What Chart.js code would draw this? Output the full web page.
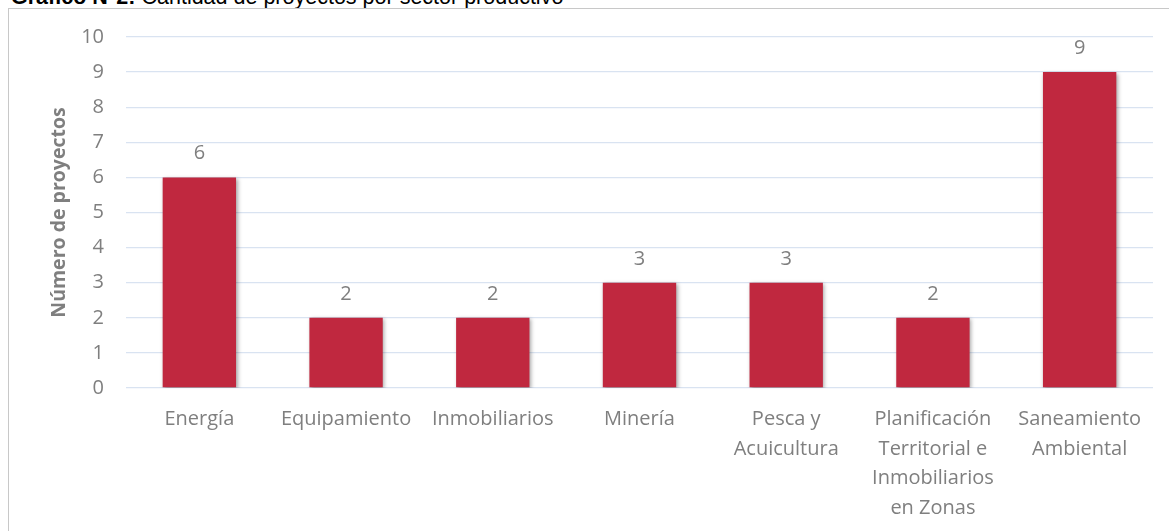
<!DOCTYPE html>
<html>
<head>
<meta charset="utf-8">
<script src="https://cdn.jsdelivr.net/npm/chart.js@4"></script>
<style>
  html, body { margin: 0; padding: 0; background: #fff; overflow: hidden; }
  #page { position: relative; width: 1169px; height: 531px; overflow: hidden; }
  #titulo {
    position: absolute; left: 11px; top: -13px;
    font: 21.5px "Liberation Sans", Arial, sans-serif; line-height: 21.5px;
    color: #000; white-space: nowrap;
  }
  #marco {
    position: absolute; left: 8px; top: 8px; width: 1170px; height: 540px;
    border: 1px solid #c8c8c8; box-sizing: border-box;
  }
  #grafico { position: absolute; left: 0; top: 0; }
</style>
</head>
<body>
<div id="page">
  <div id="titulo"><b>Gráfico N°2:</b> Cantidad de proyectos por sector productivo</div>
  <div id="marco"></div>
  <canvas id="grafico" width="1169" height="531"></canvas>
</div>
<script>
    'use strict';

    const sectores = [
        'Energía',
        'Equipamiento',
        'Inmobiliarios',
        'Minería',
        ['Pesca y', 'Acuicultura'],
        ['Planificación', 'Territorial e', 'Inmobiliarios', 'en Zonas'],
        ['Saneamiento', 'Ambiental']
    ];
    const proyectos = [6, 2, 2, 3, 3, 2, 9];
    const ticksY = [0, 1, 2, 3, 4, 5, 6, 7, 8, 9, 10];

    const gris = '#7f7f7f';
    const fuente = '"Open Sans", "DejaVu Sans", sans-serif';

    // sombra suave bajo las barras
    const sombraBarras = {
        id: 'sombraBarras',
        beforeDatasetsDraw(chart) {
            const ctx = chart.ctx;
            ctx.save();
            ctx.shadowColor = 'rgba(0, 0, 0, 0.35)';
            ctx.shadowBlur = 4;
            ctx.shadowOffsetX = 1.5;
            ctx.shadowOffsetY = 1.5;
        },
        afterDatasetsDraw(chart) {
            chart.ctx.restore();
        }
    };

    // valor encima de cada barra
    const etiquetasValor = {
        id: 'etiquetasValor',
        afterDatasetsDraw(chart) {
            const ctx = chart.ctx;
            const meta = chart.getDatasetMeta(0);
            ctx.save();
            ctx.fillStyle = gris;
            ctx.font = '20px ' + fuente;
            ctx.textAlign = 'center';
            ctx.textBaseline = 'alphabetic';
            meta.data.forEach(function(bar, i) {
                ctx.fillText(String(proyectos[i]), bar.x, bar.y - 18);
            });
            ctx.restore();
        }
    };

    new Chart(document.getElementById('grafico'), {
        type: 'bar',
        data: {
            labels: sectores,
            datasets: [{
                data: proyectos,
                backgroundColor: '#c0283f',
                borderWidth: 0,
                barPercentage: 0.5,
                categoryPercentage: 1
            }]
        },
        options: {
            responsive: false,
            animation: false,
            layout: { padding: { top: 37, right: 16, left: 0, bottom: 0 } },
            plugins: {
                legend: { display: false },
                tooltip: { enabled: false }
            },
            scales: {
                x: {
                    grid: { display: false, drawTicks: false },
                    border: { display: false },
                    ticks: {
                        color: gris,
                        font: { family: fuente, size: 20, lineHeight: 1.47 },
                        padding: 17,
                        maxRotation: 0,
                        autoSkip: false
                    },
                    afterFit(scale) { scale.height = 143; }
                },
                y: {
                    min: 0,
                    max: 10,
                    afterBuildTicks(scale) {
                        scale.ticks = ticksY.map(function(v) { return { value: v }; });
                    },
                    grid: { color: '#d9e3f1', lineWidth: 1.3, drawTicks: false },
                    border: { display: false },
                    ticks: {
                        color: gris,
                        font: { family: fuente, size: 20 },
                        padding: 22
                    },
                    title: {
                        display: true,
                        text: 'Número de proyectos',
                        color: gris,
                        font: { family: fuente, size: 19.5, weight: 'bold' },
                        padding: { top: 48, bottom: 0 }
                    },
                    afterFit(scale) { scale.width = 126; }
                }
            }
        },
        plugins: [sombraBarras, etiquetasValor]
    });
</script>
</body>
</html>
